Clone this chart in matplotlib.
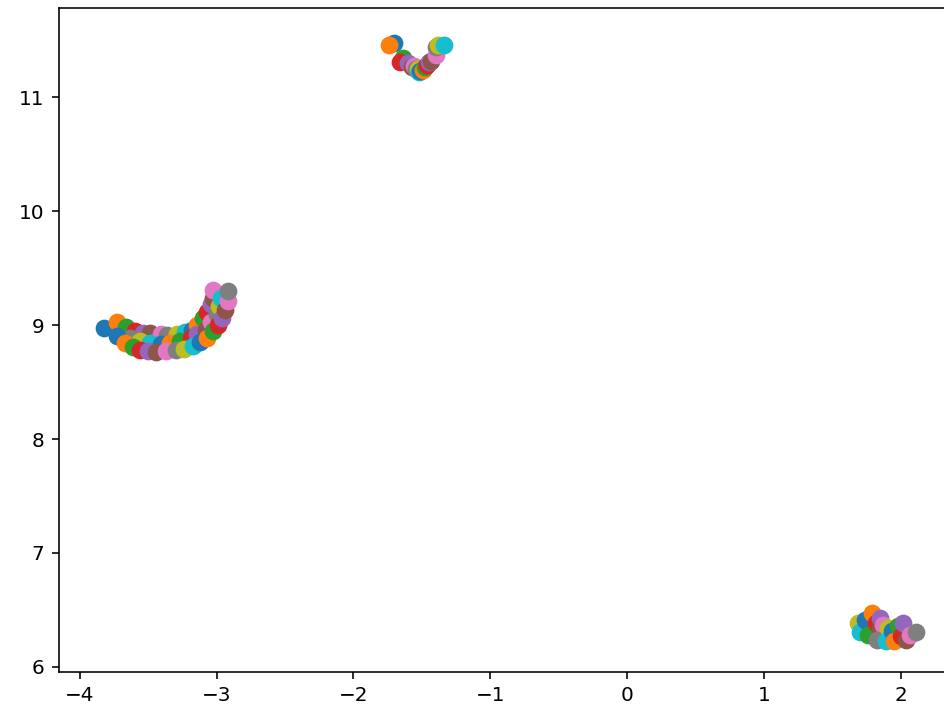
import matplotlib
matplotlib.use("Agg")
import matplotlib.pyplot as plt

# Top cluster
x_top = [-1.70, -1.74, -1.64, -1.66, -1.60, -1.57, -1.56, -1.54, -1.53, -1.52,
         -1.51, -1.49, -1.48, -1.46, -1.45, -1.43, -1.40, -1.40, -1.38, -1.34]
y_top = [11.47, 11.46, 11.34, 11.31, 11.30, 11.26, 11.27, 11.25, 11.25, 11.22,
         11.23, 11.24, 11.26, 11.28, 11.31, 11.32, 11.37, 11.44, 11.46, 11.46]

# Left arc cluster (upper, middle, lower rows)
x_left = [-3.82, -3.73, -3.66, -3.60, -3.54, -3.49, -3.41, -3.36, -3.29, -3.23,
          -3.18, -3.14, -3.10, -3.07, -3.04, -3.03, -3.03,
          -3.63, -3.56, -3.49, -3.41, -3.34, -3.27, -3.19, -3.14, -3.08, -3.04,
          -3.00, -2.98, -2.97,
          -3.73, -3.67, -3.61, -3.56, -3.50, -3.44, -3.37, -3.30, -3.24, -3.17,
          -3.12, -3.07, -3.03, -2.99, -2.96, -2.94, -2.92, -2.92]
y_left = [8.97, 9.03, 8.98, 8.95, 8.93, 8.93, 8.92, 8.91, 8.92, 8.94,
          8.96, 9.00, 9.06, 9.11, 9.18, 9.24, 9.31,
          8.89, 8.86, 8.84, 8.83, 8.84, 8.86, 8.89, 8.92, 8.96, 9.03,
          9.10, 9.17, 9.24,
          8.90, 8.84, 8.81, 8.78, 8.77, 8.76, 8.77, 8.78, 8.79, 8.82,
          8.85, 8.89, 8.95, 9.00, 9.06, 9.13, 9.21, 9.30]

# Bottom-right cluster
x_right = [1.69, 1.70, 1.74, 1.79, 1.76, 1.82, 1.85, 1.85, 1.87, 1.83,
           1.91, 1.89, 1.94, 1.95, 1.98, 2.00, 2.02, 2.04, 2.07, 2.11]
y_right = [6.39, 6.31, 6.41, 6.47, 6.28, 6.39, 6.43, 6.33, 6.37, 6.24,
           6.34, 6.23, 6.32, 6.23, 6.36, 6.27, 6.39, 6.24, 6.28, 6.31]

xs = x_top + x_left + x_right
ys = y_top + y_left + y_right

W, H, DPI = 944, 713, 144
fig = plt.figure(figsize=(W / DPI, H / DPI), dpi=DPI)
ax = fig.add_axes([58.5 / W, 41 / H, (960 - 58.5) / W, 664 / H])

for xv, yv in zip(xs, ys):
    ax.scatter(xv, yv, s=62)

ax.set_xlim(-4.156, 2.434)
ax.set_ylim(5.956, 11.781)
ax.set_xticks([-4, -3, -2, -1, 0, 1, 2])
ax.set_yticks([6, 7, 8, 9, 10, 11])

fig.savefig("out.png", dpi=DPI)
